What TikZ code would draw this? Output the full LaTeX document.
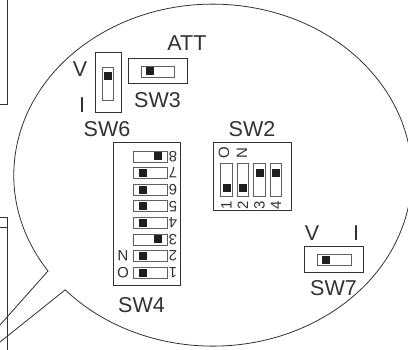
\documentclass[tikz,border=0pt]{standalone}
\usepackage{fontspec}
\setmainfont{Liberation Sans}
\usepackage{xcolor}
\usetikzlibrary{positioning}
\definecolor{lineColor}{RGB}{50, 50, 50}
\definecolor{slotColor}{RGB}{95, 95, 95}
\definecolor{knobColor}{RGB}{30, 30, 30}
\definecolor{textColor}{RGB}{50, 50, 50}

\begin{document}
\begin{tikzpicture}[
    x=1pt, y=-1pt,
    outline/.style={line width=0.8pt, draw=lineColor},
    box/.style={rectangle, draw=lineColor, line width=1pt, inner sep=0pt, outer sep=0pt},
    slotH/.style={rectangle, draw=slotColor, line width=0.8pt, fill=white, minimum width=33pt, minimum height=11pt, inner sep=0pt, outer sep=0pt},
    slotV/.style={rectangle, draw=slotColor, line width=0.8pt, fill=white, minimum width=11.5pt, minimum height=33.5pt, inner sep=0pt, outer sep=0pt},
    knob/.style={rectangle, fill=knobColor, minimum width=8pt, minimum height=8pt, inner sep=0pt, outer sep=0pt},
    tag/.style={font=\fontsize{21.5}{21.5}\selectfont, text=textColor, inner sep=0pt, outer sep=0pt},
    digit/.style={font=\fontsize{15}{15}\selectfont, text=textColor, inner sep=0pt, outer sep=0pt}
]
    \useasboundingbox (0,0) rectangle (408,350);

    % Callout
    \coordinate (tipA) at (48,271);
    \coordinate (tipB) at (65,290);
    \coordinate (endA) at (0,325);
    \coordinate (endB) at (0,342);
    \draw[outline] (endA) -- (tipA) arc[start angle=214.1, end angle=-137.9, x radius=199pt, y radius=171pt] -- (tipB) -- (endB);

    % Units at the left edge
    \draw[box] (0,104.5) -- (7,104.5) -- (7,-1);
    \draw[box] (0,218) -- (7,218) -- (7,351);
    \draw[box] (0,228) -- (7,228);

    % SW6
    \node[box, minimum width=26pt, minimum height=60pt] (sw6) at (108,83) {};
    \node[slotV, minimum height=33pt] (slot6) at (108,83.5) {};
    \node[knob, below=5pt of slot6.north] (knob6) {};
    \node[tag, below=8pt of sw6, xshift=-1pt] (name6) {SW6};
    \node[tag] (v6) at (80,69) {V};
    \node[tag] (i6) at (82,105) {I};

    % SW3
    \node[box, minimum width=59pt, minimum height=25pt] (sw3) at (157.5,71.5) {};
    \node[slotH] (slot3) at (158,71.5) {};
    \node[knob, right=4pt of slot3.west] (knob3) {};
    \node[tag, below=8pt of sw3] (name3) {SW3};
    \node[tag] (att) at (187,43) {ATT};

    % SW4
    \node[box, minimum width=67pt, minimum height=143pt] (sw4) at (146.5,214.5) {};
    \node[slotH, minimum width=34pt] (slot48) at (150,156.5) {};
    \node[slotH, minimum width=34pt, below=5.6pt of slot48] (slot47) {};
    \node[slotH, minimum width=34pt, below=5.6pt of slot47] (slot46) {};
    \node[slotH, minimum width=34pt, below=5.6pt of slot46] (slot45) {};
    \node[slotH, minimum width=34pt, below=5.6pt of slot45] (slot44) {};
    \node[slotH, minimum width=34pt, below=5.6pt of slot44] (slot43) {};
    \node[slotH, minimum width=34pt, below=5.6pt of slot43] (slot42) {};
    \node[slotH, minimum width=34pt, below=5.6pt of slot42] (slot41) {};
    \node[knob, left=5pt of slot48.east] (knob48) {};
    \node[knob, right=6pt of slot47.west] (knob47) {};
    \node[knob, right=6pt of slot46.west] (knob46) {};
    \node[knob, right=6pt of slot45.west] (knob45) {};
    \node[knob, right=6pt of slot44.west] (knob44) {};
    \node[knob, left=5pt of slot43.east] (knob43) {};
    \node[knob, right=6pt of slot42.west] (knob42) {};
    \node[knob, right=6pt of slot41.west] (knob41) {};
    \node[digit, rotate=180] (num48) at ([xshift=6pt]slot48.east) {8};
    \node[digit, rotate=180] (num47) at ([xshift=6pt]slot47.east) {7};
    \node[digit, rotate=180] (num46) at ([xshift=6pt]slot46.east) {6};
    \node[digit, rotate=180] (num45) at ([xshift=6pt]slot45.east) {5};
    \node[digit, rotate=180] (num44) at ([xshift=6pt]slot44.east) {4};
    \node[digit, rotate=180] (num43) at ([xshift=6pt]slot43.east) {3};
    \node[digit, rotate=180] (num42) at ([xshift=6pt]slot42.east) {2};
    \node[digit, rotate=180] (num41) at ([xshift=6pt]slot41.east) {1};
    \node[digit, rotate=180] (on4n) at ([xshift=-10pt]slot42.west) {N};
    \node[digit, rotate=180] (on4o) at ([xshift=-10pt]slot41.west) {O};
    \node[tag, below=11pt of sw4, xshift=-5pt] (name4) {SW4};

    % SW2
    \node[box, minimum width=78pt, minimum height=68pt] (sw2) at (252,177) {};
    \node[slotV] (slot21) at (226.5,180) {};
    \node[slotV, right=5pt of slot21] (slot22) {};
    \node[slotV, right=5pt of slot22] (slot23) {};
    \node[slotV, right=5pt of slot23] (slot24) {};
    \node[knob, above=5pt of slot21.south] (knob21) {};
    \node[knob, above=5pt of slot22.south] (knob22) {};
    \node[knob, below=6pt of slot23.north] (knob23) {};
    \node[knob, below=6pt of slot24.north] (knob24) {};
    \node[digit, rotate=90] (num21) at ([yshift=-8.5pt]slot21.south) {1};
    \node[digit, rotate=90] (num22) at ([yshift=-8.5pt]slot22.south) {2};
    \node[digit, rotate=90] (num23) at ([yshift=-8.5pt]slot23.south) {3};
    \node[digit, rotate=90] (num24) at ([yshift=-8.5pt]slot24.south) {4};
    \node[digit, rotate=90] (on2o) at (224,153) {O};
    \node[digit, rotate=90] (on2n) at (242,153) {N};
    \node[tag, above=6.5pt of sw2] (name2) {SW2};

    % SW7
    \node[box, minimum width=59pt, minimum height=26pt] (sw7) at (333.5,260) {};
    \node[slotH, minimum width=34pt] (slot7) at (334,260) {};
    \node[knob, right=5pt of slot7.west] (knob7) {};
    \node[tag, below=7pt of sw7] (name7) {SW7};
    \node[tag] (v7) at (312,233) {V};
    \node[tag] (i7) at (356,233) {I};
\end{tikzpicture}
\end{document}
